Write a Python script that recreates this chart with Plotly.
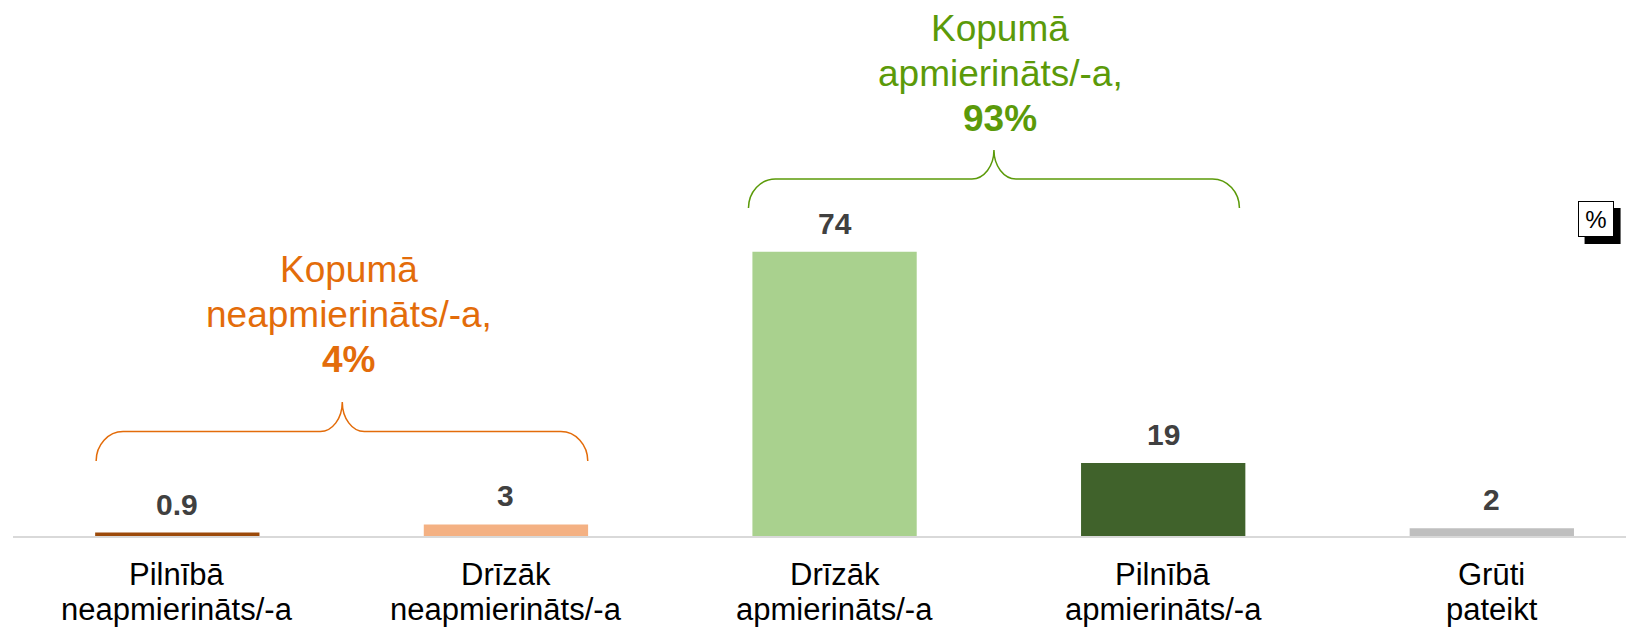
import plotly.graph_objects as go

# ---------------- data ----------------
categories = [
    "Pilnībā<br>neapmierināts/-a",
    "Drīzāk<br>neapmierināts/-a",
    "Drīzāk<br>apmierināts/-a",
    "Pilnībā<br>apmierināts/-a",
    "Grūti<br>pateikt",
]
values = [0.9, 3, 74, 19, 2]
value_labels = ["0.9", "3", "74", "19", "2"]
bar_colors = ["#9C4A0A", "#F4B183", "#A9D18E", "#40622B", "#BFBFBF"]

group_titles = [["Kopumā", "neapmierināts/-a,", "<b>4%</b>"],
                ["Kopumā", "apmierināts/-a,", "<b>93%</b>"]]
group_colors = ["#E36C0A", "#5B9A09"]
# brace geometry (axis units): left, right, tip x; base, shoulder, tip y
brace_x = [(-0.247, 1.249, 0.502), (1.738, 3.232, 2.485)]
brace_y = [(19.5, 27.2, 34.9), (85.4, 93.0, 100.5)]
title_pos = [(0.522, 57.8), (2.504, 120.5)]

FONT = "Arial, Liberation Sans, sans-serif"
BAR_W = 0.5
x_idx = list(range(len(categories)))

fig = go.Figure()
fig.add_trace(go.Bar(
    x=x_idx, y=values, width=BAR_W,
    marker=dict(color=bar_colors, line=dict(width=0)),
    hoverinfo="skip", showlegend=False,
))

annotations = []
for i, (v, lab) in enumerate(zip(values, value_labels)):
    annotations.append(dict(
        x=i, y=v, xref="x", yref="y", text=f"<b>{lab}</b>",
        showarrow=False, yanchor="bottom", yshift=10,
        font=dict(family=FONT, size=30, color="#404040"),
    ))

# category labels (two lines each, tight line spacing)
for i, cat in enumerate(categories):
    for j, line in enumerate(cat.split("<br>")):
        annotations.append(dict(
            x=i, y=0, xref="x", yref="paper", text=line,
            showarrow=False, yanchor="middle", yshift=-38.5 - 35 * j,
            font=dict(family=FONT, size=31, color="black"),
        ))

shapes = []
rx, rc = 0.082, 0.067
k = 0.552
for g in range(len(group_titles)):
    x0, x1, xc = brace_x[g]
    yb, yh, yt = brace_y[g]
    path = (
        f"M {x0},{yb} "
        f"C {x0},{yb + k*(yh-yb)} {x0 + rx - k*rx},{yh} {x0 + rx},{yh} "
        f"L {xc - rc},{yh} "
        f"C {xc - rc + k*rc},{yh} {xc},{yt - k*(yt-yh)} {xc},{yt} "
        f"C {xc},{yt - k*(yt-yh)} {xc + rc - k*rc},{yh} {xc + rc},{yh} "
        f"L {x1 - rx},{yh} "
        f"C {x1 - rx + k*rx},{yh} {x1},{yb + k*(yh-yb)} {x1},{yb}"
    )
    shapes.append(dict(type="path", path=path, xref="x", yref="y",
                       line=dict(color=group_colors[g], width=1.5)))
    tx, ty = title_pos[g]
    for j, line in enumerate(group_titles[g]):
        annotations.append(dict(
            x=tx, y=ty, xref="x", yref="y", text=line,
            showarrow=False, yanchor="middle", align="center",
            yshift=(1 - j) * 45,
            font=dict(family=FONT, size=37, color=group_colors[g]),
        ))

# "%" box with shadow
bx, by = 0.9715, 0.6003
shapes.append(dict(type="rect", xref="paper", yref="paper",
                   xsizemode="pixel", ysizemode="pixel",
                   xanchor=bx, yanchor=by,
                   x0=-11, x1=25, y0=-25, y1=11,
                   fillcolor="black", line=dict(width=0)))
annotations.append(dict(
    x=bx, y=by, xref="paper", yref="paper", text="%", showarrow=False,
    xanchor="center", yanchor="middle", width=34, height=34, borderpad=0,
    bgcolor="white", bordercolor="black", borderwidth=1,
    font=dict(family=FONT, size=24, color="black"),
))

fig.update_layout(
    template="none",
    width=1634, height=627,
    margin=dict(l=5, r=0, t=0, b=99, pad=0, autoexpand=False),
    paper_bgcolor="white", plot_bgcolor="white",
    bargap=0.5,
    shapes=shapes, annotations=annotations,
    xaxis=dict(
        automargin=False,
        range=[-0.5, 4.457], tickmode="array", tickvals=x_idx,
        showticklabels=False, showline=True, linecolor="#D9D9D9",
        linewidth=2, showgrid=False, zeroline=False, ticks="",
        fixedrange=True,
    ),
    yaxis=dict(automargin=False, range=[0, 137.5], visible=False,
               fixedrange=True, showgrid=False, zeroline=False),
)

fig.write_html("out.html")
